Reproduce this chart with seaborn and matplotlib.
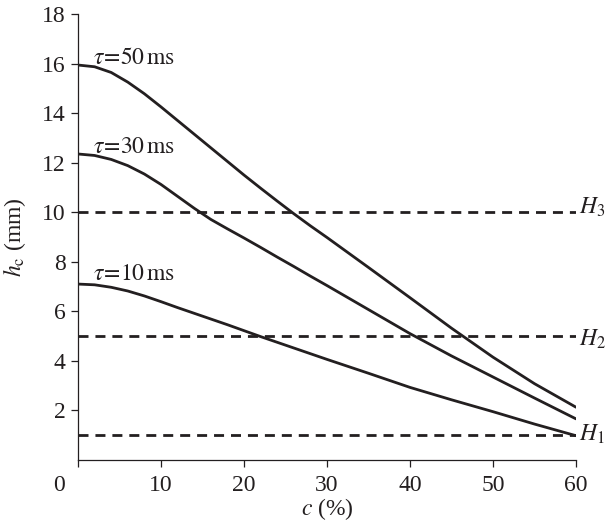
import numpy as np
import pandas as pd
import seaborn as sns
import matplotlib.pyplot as plt
import matplotlib.transforms as mtransforms

# values
c_pct = [0, 2, 4, 6, 8, 10, 12, 14, 16, 18, 20, 22, 24, 26, 28, 30, 35, 40, 45, 50, 55, 60]
h_tau50 = [15.94, 15.87, 15.64, 15.25, 14.78, 14.25, 13.70, 13.15, 12.60, 12.05, 11.50,
           10.97, 10.45, 9.94, 9.45, 8.98, 7.77, 6.55, 5.32, 4.15, 3.08, 2.13]
h_tau30 = [12.35, 12.29, 12.13, 11.88, 11.54, 11.12, 10.64, 10.16, 9.71, 9.33, 8.96,
           8.58, 8.19, 7.81, 7.42, 7.04, 6.07, 5.10, 4.20, 3.35, 2.50, 1.66]
h_tau10 = [7.10, 7.07, 6.97, 6.82, 6.62, 6.39, 6.15, 5.92, 5.69, 5.46, 5.22,
           4.98, 4.75, 4.52, 4.29, 4.06, 3.50, 2.93, 2.43, 1.95, 1.45, 0.98]
tau_labels = ['50', '30', '10']
label_pos = [(1.8, 16.0), (1.8, 12.4), (1.8, 7.25)]
H_levels = [1, 5, 10]
H_names = ['$H_1$', '$H_2$', '$H_3$']
H_label_y = [0.78, 4.61, 9.93]
x_ticks = [0, 10, 20, 30, 40, 50, 60]
y_ticks = [2, 4, 6, 8, 10, 12, 14, 16, 18]

ink = '#231f20'

sns.set_theme(style='ticks')
plt.rcParams['font.family'] = ['Liberation Serif', 'DejaVu Serif']
plt.rcParams['mathtext.fontset'] = 'stix'
plt.rcParams['text.color'] = ink
plt.rcParams['axes.labelcolor'] = ink
plt.rcParams['xtick.color'] = ink
plt.rcParams['ytick.color'] = ink

df = pd.DataFrame({
    'c': c_pct * 3,
    'h': h_tau50 + h_tau30 + h_tau10,
    'tau': sum([[t] * len(c_pct) for t in tau_labels], []),
})

fig = plt.figure(figsize=(6.07, 5.22), dpi=100)
ax = fig.add_axes([0.1285, 0.1188, 0.8204, 0.8544])

sns.lineplot(data=df, x='c', y='h', hue='tau', palette=[ink] * 3,
             estimator=None, legend=False, lw=2.0, ax=ax)

for lvl in H_levels:
    ax.axhline(lvl, xmin=0, xmax=1, color=ink, lw=2.0, ls=(0, (3.6, 2.5)))

for t, (x, y) in zip(tau_labels, label_pos):
    ax.text(x, y, r'$\tau\!=\!%s\,\mathrm{ms}$' % t, fontsize=17, va='baseline', ha='left')

for name, y in zip(H_names, H_label_y):
    ax.text(60.36, y, name, fontsize=17, va='baseline', ha='left', clip_on=False)

ax.set_xlim(0, 60)
ax.set_ylim(0, 18)
ax.set_xticks(x_ticks)
ax.set_yticks(y_ticks)
ax.tick_params(direction='out', length=5, width=0.9, labelsize=17, pad=4)
ax.tick_params(axis='x', pad=6)
for s in ['top', 'right']:
    ax.spines[s].set_visible(False)
for s in ['left', 'bottom']:
    ax.spines[s].set_linewidth(0.9)
    ax.spines[s].set_color(ink)

# the "0" label sits to the left of its tick
lab0 = ax.get_xticklabels()[0]
lab0.set_transform(lab0.get_transform() + mtransforms.ScaledTranslation(-19 / 100, 0, fig.dpi_scale_trans))

ax.set_xlabel('$c$ (%)', fontsize=17, labelpad=0)
ax.set_ylabel(r'$h_{\mathrm{c}}$ (mm)', fontsize=17, labelpad=10)

fig.savefig('out.png', dpi=100)
